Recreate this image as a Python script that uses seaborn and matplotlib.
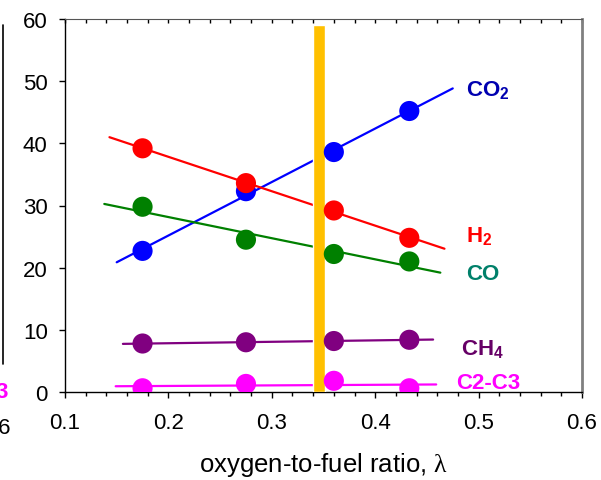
import numpy as np
import pandas as pd
import seaborn as sns
import matplotlib.pyplot as plt
from matplotlib.ticker import MultipleLocator

# data
ratio = [0.175, 0.275, 0.36, 0.433]
co2 = [22.7, 32.3, 38.6, 45.2]
h2 = [39.2, 33.6, 29.2, 24.8]
co = [29.8, 24.5, 22.2, 21.0]
ch4 = [7.8, 8.0, 8.2, 8.4]
c2c3 = [0.6, 1.3, 1.8, 0.6]

gases = ["CO2", "H2", "CO", "CH4", "C2-C3"]
fit_start = [0.15, 0.143, 0.138, 0.156, 0.149]
fit_end = [0.475, 0.467, 0.463, 0.456, 0.459]
marker_colors = ["#0000ff", "#ff0000", "#008000", "#800080", "#ff00ff"]
text_colors = ["#0000b0", "#ff0000", "#00806a", "#660066", "#ff00ff"]
labels = ["CO$_\\mathbf{2}$", "H$_\\mathbf{2}$", "CO", "CH$_\\mathbf{4}$", "C2-C3"]
label_x = [0.488, 0.488, 0.488, 0.483, 0.478]
label_y = [48.7, 25.1, 19.0, 7.0, 1.5]

bar_x = 0.346
bar_top = 59.0

sns.set_style("ticks")
plt.rcParams["font.family"] = ["Liberation Sans", "DejaVu Sans"]
plt.rcParams["mathtext.fontset"] = "custom"
plt.rcParams["mathtext.rm"] = "Liberation Serif"
plt.rcParams["mathtext.bf"] = "Liberation Sans:bold"
plt.rcParams["text.color"] = "black"
plt.rcParams["axes.labelcolor"] = "black"
plt.rcParams["xtick.color"] = "black"
plt.rcParams["ytick.color"] = "black"

values = [co2, h2, co, ch4, c2c3]
df = pd.DataFrame({
    "ratio": ratio * len(gases),
    "value": sum(values, []),
    "gas": np.repeat(gases, len(ratio)),
})

fit_rows = []
for g, v, a, b in zip(gases, values, fit_start, fit_end):
    k, c = np.polyfit(ratio, v, 1)
    for xx in (a, b):
        fit_rows.append({"ratio": xx, "value": k * xx + c, "gas": g})
fits = pd.DataFrame(fit_rows)

fig = plt.figure(figsize=(6.01, 4.81), dpi=100)
ax = fig.add_axes([65 / 601, 1 - 393 / 481, 517 / 601, 373 / 481])

sns.lineplot(data=fits, x="ratio", y="value", hue="gas", palette=marker_colors,
             hue_order=gases, linewidth=1.6, legend=False, ax=ax, zorder=2)
ax.bar(bar_x, bar_top, width=0.0115, bottom=0, color="#ffc000", zorder=3)
sns.scatterplot(data=df, x="ratio", y="value", hue="gas", palette=marker_colors,
                hue_order=gases, s=210, linewidth=0, legend=False, ax=ax, zorder=4)

for lab, xx, yy, col in zip(labels, label_x, label_y, text_colors):
    ax.text(xx, yy, lab, color=col, fontsize=16, fontweight="bold",
            ha="left", va="center")

ax.set_xlim(0.1, 0.6)
ax.set_ylim(0, 60)
ax.xaxis.set_major_locator(MultipleLocator(0.1))
ax.xaxis.set_minor_locator(MultipleLocator(0.02))
ax.yaxis.set_major_locator(MultipleLocator(10))
ax.set_xticklabels([f"{t:.1f}" for t in ax.get_xticks()])
ax.tick_params(axis="both", which="major", labelsize=16, length=4.5, width=1)
ax.tick_params(axis="x", which="major", pad=10)
ax.tick_params(axis="y", which="major", pad=8)
ax.tick_params(axis="x", which="minor", length=3, width=1)
ax.tick_params(axis="x", which="both", top=True, labeltop=False, direction="out")
for t in ax.xaxis.get_ticklines(minor=True)[1::2] + ax.xaxis.get_ticklines()[1::2]:
    t.set_marker(3)  # top ticks point inward
    t.set_markersize(3)
ax.set_xlim(0.1, 0.6)
ax.set_xlabel("oxygen-to-fuel ratio, $\\mathrm{\\lambda}$", fontsize=18.5, labelpad=12)
ax.set_ylabel("")
for s in ["left", "bottom"]:
    ax.spines[s].set_linewidth(1)
    ax.spines[s].set_color("black")
ax.spines["top"].set_color("#555555")
ax.spines["right"].set_color("#808080")
ax.spines["right"].set_linewidth(2)

# piece of the neighbouring panel cut off on the left
fig.add_artist(plt.Line2D([3 / 601, 3 / 601], [1 - 26 / 481, 1 - 365 / 481],
                          color="black", linewidth=1.2))
fig.text(-0.008, 1 - 392 / 481, "3", color="#ff00ff", fontsize=16,
         fontweight="bold", va="center")
fig.text(-0.014, 1 - 428 / 481, ".6", fontsize=16, va="center")

fig.savefig("out.png", dpi=100)
